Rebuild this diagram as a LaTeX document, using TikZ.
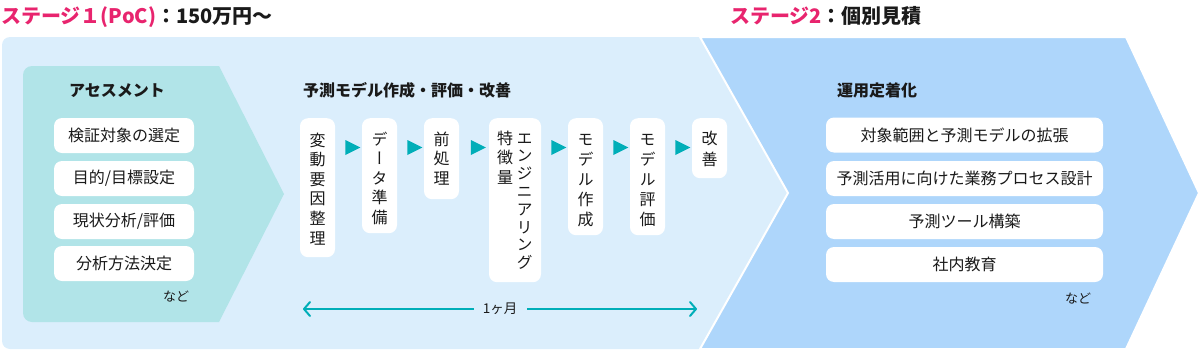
\documentclass[tikz,border=0pt]{standalone}
\usepackage{fontspec}
\setmainfont{Noto Sans CJK JP}
\newfontfamily\vfont[RawFeature=+vert]{Noto Sans CJK JP}
\usetikzlibrary{arrows.meta,shapes.geometric,calc}
\definecolor{bgone}{HTML}{DBEEFC}
\definecolor{bgtwo}{HTML}{AED6FB}
\definecolor{asmcol}{HTML}{B1E4E8}
\definecolor{tealc}{HTML}{00AEB8}
\definecolor{pinkc}{HTML}{E8246E}
\definecolor{inkc}{HTML}{1A1A1A}
\newcommand\vstack[2]{\parbox[t]{1.2em}{\centering\vfont\baselineskip=#1\lineskiplimit=-100pt #2}}
\tikzset{
  wbox/.style={fill=white, rounded corners=8pt, inner sep=0pt, text=inkc, font=\fontsize{16pt}{18pt}\selectfont},
  vbox/.style={fill=white, rounded corners=8pt, inner sep=0pt, anchor=north, minimum width=35pt},
  vtxt/.style={anchor=base, inner sep=0pt, text=inkc, font=\fontsize{16pt}{18pt}\selectfont},
  head/.style={anchor=base west, inner sep=0pt, text=inkc, font=\fontsize{16pt}{18pt}\selectfont\bfseries},
  ttl/.style={anchor=base west, inner sep=0pt, font=\fontsize{20pt}{22pt}\selectfont\bfseries},
  nado/.style={inner sep=0pt, text=inkc, font=\fontsize{13pt}{15pt}\selectfont},
  tri/.style={isosceles triangle, isosceles triangle stretches, fill=tealc, minimum width=15pt, minimum height=15pt, inner sep=0pt},
  span/.style={draw=tealc, line width=2pt, -{Straight Barb[length=6pt,width=14pt,line cap=round,line join=round]}}
}
\begin{document}
\begin{tikzpicture}[x=1pt,y=-1pt]
\useasboundingbox (0,0) rectangle (1200,351);
% backgrounds
\fill[bgone, rounded corners=8pt] (2,37) rectangle (720,349);
\fill[bgone] (700,37) -- (788,193) -- (700,349) -- cycle;
\filldraw[fill=bgtwo, draw=white, line width=2pt, line join=miter] (700,37) -- (1126,37) -- (1199,193) -- (1126,349) -- (700,349) -- (788,193) -- cycle;
\fill[asmcol] (219,66) [rounded corners=9pt] -- (23,66) -- (23,322) [sharp corners] -- (219,322) -- (284,194) -- cycle;
% titles
\node[ttl] (t1) at (1,23.5) {\textcolor{pinkc}{ステージ１(PoC)}\textcolor{inkc}{：150万円〜}};
\node[ttl] (t2) at (730,23.5) {\textcolor{pinkc}{ステージ2}\textcolor{inkc}{：個別見積}};
% headings
\node[head] (h1) at (69,96) {アセスメント};
\node[head] (h2) at (303,96) {予測モデル作成・評価・改善};
\node[head] (h3) at (837,96) {運用定着化};
% assessment boxes
\node[wbox, minimum width=140pt, minimum height=35pt] (a1) at (124,135.5) {検証対象の選定};
\node[wbox, minimum width=140pt, minimum height=35pt] (a2) at (124,178.5) {目的/目標設定};
\node[wbox, minimum width=140pt, minimum height=35pt] (a3) at (124,221.5) {現状分析/評価};
\node[wbox, minimum width=140pt, minimum height=35pt] (a4) at (124,263.5) {分析方法決定};
\node[nado] (n1) at (176,297) {など};
% stage 2 boxes
\node[wbox, minimum width=277pt, minimum height=35pt] (c1) at (964.5,135) {対象範囲と予測モデルの拡張};
\node[wbox, minimum width=277pt, minimum height=35pt] (c2) at (964.5,178.5) {予測活用に向けた業務プロセス設計};
\node[wbox, minimum width=277pt, minimum height=35pt] (c3) at (964.5,221.5) {予測ツール構築};
\node[wbox, minimum width=277pt, minimum height=35pt] (c4) at (964.5,264.5) {社内教育};
\node[nado] (n2) at (1078,299) {など};
% vertical steps
\node[vbox, minimum height=139pt] (b1) at (317.5,118) {};
\node[vtxt] (v1) at (317.5,146) {\vstack{19.6pt}{変\\動\\要\\因\\整\\理}};
\node[vbox, minimum height=115pt] (b2) at (379.5,118) {};
\node[vtxt] (v2) at (379.5,145) {\vstack{19.6pt}{デ\\ー\\タ\\準\\備}};
\node[vbox, minimum height=81pt] (b3) at (441.5,118) {};
\node[vtxt] (v3) at (441.5,145) {\vstack{19.8pt}{前\\処\\理}};
\node[vbox, minimum width=52pt, minimum height=164pt] (b4) at (515,118) {};
\node[vtxt] (v4a) at (505,144) {\vstack{19.8pt}{特\\徴\\量}};
\node[vtxt] (v4b) at (524.5,144) {\vstack{17.8pt}{エ\\ン\\ジ\\ニ\\ア\\リ\\ン\\グ}};
\node[vbox, minimum height=117pt] (b5) at (585.5,118) {};
\node[vtxt] (v5) at (585.5,145) {\vstack{20pt}{モ\\デ\\ル\\作\\成}};
\node[vbox, minimum height=117pt] (b6) at (647.5,118) {};
\node[vtxt] (v6) at (647.5,145) {\vstack{20pt}{モ\\デ\\ル\\評\\価}};
\node[vbox, minimum height=60pt] (b7) at (709.5,118) {};
\node[vtxt] (v7) at (709.5,144.5) {\vstack{21pt}{改\\善}};
% triangles between steps
\foreach \p/\q in {b1/b2,b2/b3,b3/b4,b4/b5,b5/b6,b6/b7}{
  \node[tri] (tr-\p) at ($(\p.north east)!0.5!(\q.north west)+(1.5,29.5)$) {};
}
% duration arrow
\coordinate (L) at (303,309);
\coordinate (R) at (697,309);
\node[inner sep=0pt, text=inkc, font=\fontsize{13.5pt}{15pt}\selectfont] (m) at (500,309) {1ヶ月};
\draw[span] ([xshift=-9pt]m.west) -- (L);
\draw[span] ([xshift=10pt]m.east) -- (R);
\end{tikzpicture}
\end{document}
